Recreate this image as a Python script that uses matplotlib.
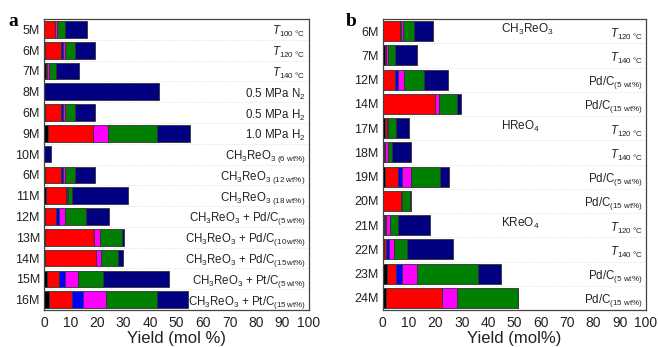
import numpy as np
import matplotlib
matplotlib.use("Agg")
import matplotlib.pyplot as plt

plt.rcParams['font.family'] = ['Liberation Sans', 'DejaVu Sans']
plt.rcParams['mathtext.fontset'] = 'custom'
plt.rcParams['mathtext.rm'] = 'Liberation Sans'
plt.rcParams['mathtext.it'] = 'Liberation Sans:italic'
plt.rcParams['mathtext.bf'] = 'Liberation Sans:bold'

# ---------- data ----------
seg_colors = ['#000000', '#ff0000', '#0000ff', '#ff00ff', '#008000', '#000080']

# panel a, top to bottom; columns: black, red, blue, magenta, green, navy
a_rows = ['5M', '6M', '7M', '8M', '6M', '9M', '10M', '6M', '11M', '12M',
          '13M', '14M', '15M', '16M']
a_vals = [
    [0.0, 4.0, 0.0, 0.9, 2.9, 8.4],
    [0.2, 6.3, 0.5, 0.9, 3.8, 7.4],
    [0.8, 0.5, 0.0, 0.7, 2.6, 8.5],
    [0.0, 0.0, 0.0, 0.0, 0.0, 43.3],
    [0.2, 6.3, 0.5, 0.9, 3.8, 7.4],
    [1.5, 16.9, 0.0, 5.8, 18.4, 12.6],
    [0.0, 0.0, 0.0, 0.0, 0.0, 2.8],
    [0.2, 6.3, 0.5, 0.9, 3.8, 7.4],
    [0.6, 7.6, 0.4, 0.5, 1.5, 21.0],
    [0.2, 4.5, 1.0, 2.3, 7.8, 8.9],
    [0.2, 18.8, 0.0, 2.3, 8.1, 0.9],
    [0.2, 19.5, 0.0, 1.7, 6.7, 1.6],
    [1.1, 4.6, 2.1, 5.0, 9.6, 24.6],
    [1.9, 8.8, 3.9, 8.7, 19.3, 11.6],
]
a_labels = [
    r'$\mathit{T}_{\mathrm{100\ °C}}$',
    r'$\mathit{T}_{\mathrm{120\ °C}}$',
    r'$\mathit{T}_{\mathrm{140\ °C}}$',
    r'0.5 MPa N$_2$',
    r'0.5 MPa H$_2$',
    r'1.0 MPa H$_2$',
    r'CH$_3$ReO$_{3\ \mathrm{(6\ wt\%)}}$',
    r'CH$_3$ReO$_{3\ \mathrm{(12\ wt\%)}}$',
    r'CH$_3$ReO$_{3\ \mathrm{(18\ wt\%)}}$',
    r'CH$_3$ReO$_3$ + Pd/C$_{\mathrm{(5\,wt\%)}}$',
    r'CH$_3$ReO$_3$ + Pd/C$_{\mathrm{(10\,wt\%)}}$',
    r'CH$_3$ReO$_3$ + Pd/C$_{\mathrm{(15\,wt\%)}}$',
    r'CH$_3$ReO$_3$ + Pt/C$_{\mathrm{(5\,wt\%)}}$',
    r'CH$_3$ReO$_3$ + Pt/C$_{\mathrm{(15\,wt\%)}}$',
]

# panel b
b_rows = ['6M', '7M', '12M', '14M', '17M', '18M', '19M', '20M', '21M', '22M',
          '23M', '24M']
b_vals = [
    [0.2, 6.3, 0.5, 0.9, 3.8, 7.4],
    [0.8, 0.5, 0.0, 0.7, 2.6, 8.5],
    [0.2, 4.5, 1.0, 2.3, 7.8, 8.9],
    [0.2, 19.5, 0.0, 1.7, 6.7, 1.6],
    [0.9, 0.6, 0.0, 0.6, 3.0, 4.9],
    [0.5, 0.2, 0.3, 1.0, 1.6, 7.0],
    [0.9, 5.0, 1.3, 3.4, 11.3, 3.4],
    [0.2, 6.6, 0.0, 0.4, 3.2, 0.4],
    [0.6, 0.4, 0.4, 1.4, 3.1, 12.1],
    [0.5, 0.8, 1.0, 2.0, 4.8, 17.7],
    [1.5, 3.6, 2.1, 6.0, 23.1, 8.5],
    [1.1, 21.3, 0.0, 5.7, 23.2, 0.0],
]
b_labels = [
    r'$\mathit{T}_{\mathrm{120\ °C}}$',
    r'$\mathit{T}_{\mathrm{140\ °C}}$',
    r'Pd/C$_{\mathrm{(5\ wt\%)}}$',
    r'Pd/C$_{\mathrm{(15\ wt\%)}}$',
] * 3
b_groups = [r'CH$_3$ReO$_3$', r'HReO$_4$', r'KReO$_4$']
b_group_rows = [0, 4, 8]


def draw_panel(ax, rows, vals, labels, height, xlabel):
    vals = np.array(vals)
    y = np.arange(len(rows))
    left = np.zeros(len(rows))
    for k in range(vals.shape[1]):
        w = vals[:, k]
        ax.barh(y, w, left=left, height=height, color=seg_colors[k],
                edgecolor='#333333', linewidth=0.6)
        left += w
    ax.set_xlim(0, 100)
    ax.set_ylim(len(rows) - 0.5, -0.5)
    ax.set_yticks(y)
    ax.set_yticklabels(rows, fontsize=9, color='#222222')
    ax.set_yticks(np.arange(len(rows) + 1) - 0.5, minor=True)
    ax.set_xticks(np.arange(0, 101, 10))
    ax.tick_params(axis='x', labelsize=10, length=0, pad=4, labelcolor='#222222')
    ax.tick_params(axis='y', which='both', length=0, pad=3)
    ax.grid(axis='y', which='minor', color='#d8d8d8', linestyle=':', linewidth=0.6)
    ax.set_axisbelow(True)
    for sp in ax.spines.values():
        sp.set_color('#444444')
        sp.set_linewidth(0.9)
    ax.set_xlabel(xlabel, fontsize=12, labelpad=1, color='#222222')
    for yi, lab in zip(y, labels):
        ax.text(98.8, yi + 0.12, lab, ha='right', va='center', fontsize=8.3,
                color='#222222', zorder=5)


fig = plt.figure(figsize=(6.58, 3.47), dpi=100)
ax_a = fig.add_axes([0.0669, 0.1066, 0.4027, 0.8386])
ax_b = fig.add_axes([0.5816, 0.1066, 0.4002, 0.8386])

draw_panel(ax_a, a_rows, a_vals, a_labels, 0.8, 'Yield (mol %)')
draw_panel(ax_b, b_rows, b_vals, b_labels, 0.82, 'Yield (mol%)')

for r, g in zip(b_group_rows, b_groups):
    ax_b.text(45, r - 0.05, g, ha='left', va='center', fontsize=8.5, color='#222222')

fig.text(0.012, 0.925, 'a', fontsize=14, fontweight='bold', family='Liberation Serif')
fig.text(0.525, 0.925, 'b', fontsize=14, fontweight='bold', family='Liberation Serif')

fig.savefig('out.png', dpi=100)
